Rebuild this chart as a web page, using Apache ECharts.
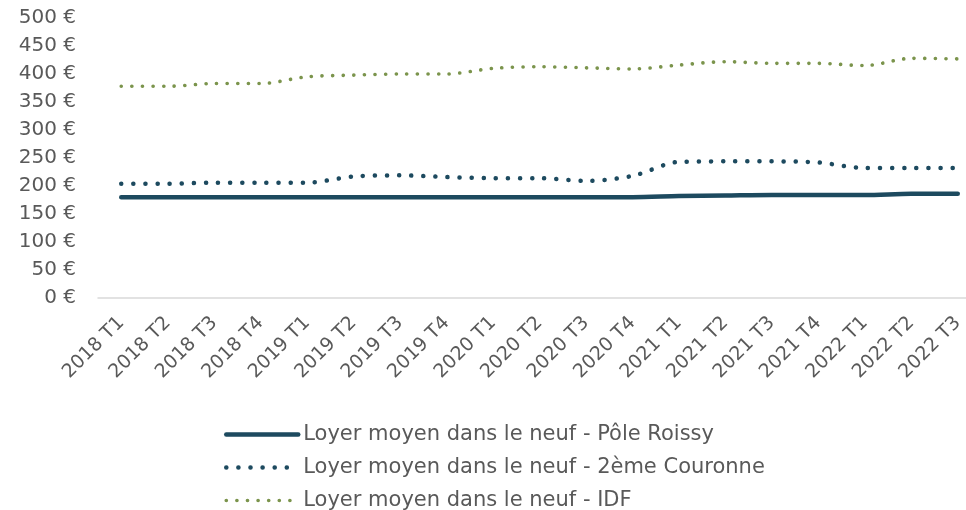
<!DOCTYPE html>
<html>
<head>
<meta charset="utf-8">
<script src="https://cdn.jsdelivr.net/npm/echarts@6/dist/echarts.min.js"></script>
<style>
  html, body { margin: 0; padding: 0; background: #fff; }
  #chart { width: 966px; height: 510px; }
</style>
</head>
<body>
<div id="chart"></div>
<script>
// trimestres
var categories = ['2018 T1','2018 T2','2018 T3','2018 T4','2019 T1','2019 T2','2019 T3','2019 T4',
  '2020 T1','2020 T2','2020 T3','2020 T4','2021 T1','2021 T2','2021 T3','2021 T4','2022 T1','2022 T2','2022 T3'];

var poleRoissy = [180,180,180,180,180,180,180,180,180,180,180,180,182,183,184,184,184,186,186];
var deuxiemeCouronne = [204,204,206,206,206,217,219,216,214,214,209,218,243,244,244,242,232,232,232];
var idf = [378,378,383,383,395,398,400,400,410,413,411,409,416,422,419,419,415,428,427];

var seriesNames = ['Loyer moyen dans le neuf - Pôle Roissy',
  'Loyer moyen dans le neuf - 2ème Couronne',
  'Loyer moyen dans le neuf - IDF'];

var yTicks = { min: 0, max: 500, interval: 50 };

var font = 'DejaVu Sans';
var grey = '#595959';
var navy = '#1d4a5f';
var green = '#7b944c';

var styles = [
  { color: navy, width: 4.5, type: 'solid', cap: 'round' },
  { color: navy, width: 4.5, type: [0.1, 12], cap: 'round' },
  { color: green, width: 3.6, type: [0.1, 10.5], cap: 'round' }
];
var datas = [poleRoissy, deuxiemeCouronne, idf];

var chart = echarts.init(document.getElementById('chart'));
var option = {
  animation: false,
  textStyle: { fontFamily: font },
  grid: { left: 98, right: -15, top: 18, bottom: 212, outerBoundsMode: 'none', containLabel: false },
  legend: {
    orient: 'vertical',
    left: 224,
    top: 424,
    padding: 0,
    height: 100,
    itemWidth: 72,
    itemHeight: 20,
    itemGap: 12,
    itemStyle: { opacity: 0 },
    textStyle: { color: grey, fontSize: 21, fontFamily: font },
    data: seriesNames.map(function (n, i) {
      return { name: n, lineStyle: styles[i] };
    })
  },
  xAxis: {
    type: 'category',
    data: categories,
    boundaryGap: true,
    axisLine: { lineStyle: { color: '#d9d9d9', width: 1.5 } },
    axisTick: { show: false },
    axisLabel: { rotate: 45, color: grey, fontSize: 19, margin: 22, interval: 0 }
  },
  yAxis: {
    type: 'value',
    min: yTicks.min,
    max: yTicks.max,
    interval: yTicks.interval,
    splitLine: { show: false },
    axisLine: { show: false },
    axisTick: { show: false },
    axisLabel: { color: grey, fontSize: 20, margin: 22, formatter: '{value} €' }
  },
  series: seriesNames.map(function (n, i) {
    return {
      name: n, type: 'line', data: datas[i], symbol: 'none', smooth: 0.3,
      itemStyle: { color: styles[i].color },
      lineStyle: styles[i]
    };
  })
};
chart.setOption(option);
</script>
</body>
</html>
